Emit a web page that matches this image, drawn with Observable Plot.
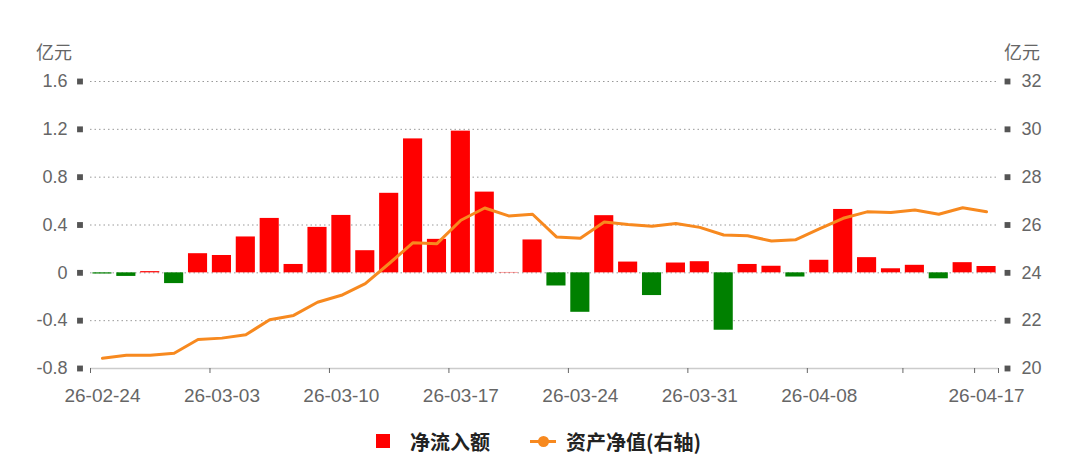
<!DOCTYPE html>
<html>
<head>
<meta charset="utf-8">
<script src="https://cdn.jsdelivr.net/npm/d3@7"></script>
<script src="https://cdn.jsdelivr.net/npm/@observablehq/plot@0.6"></script>
<style>
  html, body { margin: 0; padding: 0; background: #fff; }
  body { width: 1077px; height: 462px; overflow: hidden; font-family: "Liberation Sans", Arial, "Noto Sans CJK SC", sans-serif; }
  #chart svg { display: block; }
  .legend { height: 42px; display: flex; justify-content: center; align-items: center; font-weight: bold; font-size: 20px; color: #222; font-family: "Noto Sans CJK SC", sans-serif; }
  .legend .sq { width: 14px; height: 14px; background: #ff0000; margin-right: 20px; }
  .legend .ln { position: relative; width: 26px; height: 3px; background: #f7891f; margin-left: 40px; margin-right: 10px; }
  .legend .ln::after { content: ""; position: absolute; left: 8px; top: -4px; width: 11px; height: 11px; border-radius: 50%; background: #f7891f; }
</style>
</head>
<body>
<div id="chart"></div>
<div class="legend"><span class="sq"></span><span>净流入额</span><span class="ln"></span><span>资产净值(右轴)</span></div>
<script>
const dates = ["26-02-24","26-02-25","26-02-26","26-02-27","26-03-02","26-03-03","26-03-04","26-03-05","26-03-06","26-03-09","26-03-10","26-03-11","26-03-12","26-03-13","26-03-16","26-03-17","26-03-18","26-03-19","26-03-20","26-03-23","26-03-24","26-03-25","26-03-26","26-03-27","26-03-30","26-03-31","26-04-01","26-04-02","26-04-03","26-04-07","26-04-08","26-04-09","26-04-10","26-04-13","26-04-14","26-04-15","26-04-16","26-04-17"];
// 净流入额 (亿元)
const flows = [-0.01,-0.03,0.01,-0.09,0.16,0.145,0.30,0.455,0.07,0.38,0.48,0.185,0.665,1.12,0.28,1.185,0.675,0.003,0.275,-0.11,-0.33,0.478,0.09,-0.19,0.082,0.093,-0.48,0.07,0.055,-0.035,0.105,0.53,0.127,0.034,0.063,-0.05,0.085,0.053];
// 资产净值 (亿元, 右轴)
const navs = [20.43,20.55,20.55,20.64,21.21,21.27,21.41,22.04,22.22,22.77,23.06,23.55,24.39,25.26,25.22,26.2,26.71,26.38,26.45,25.5,25.45,26.13,26.02,25.95,26.06,25.9,25.58,25.55,25.33,25.38,25.84,26.28,26.55,26.52,26.63,26.45,26.72,26.55];
const leftTicks = [-0.8,-0.4,0,0.4,0.8,1.2,1.6];
const rightTicks = [20,22,24,26,28,30,32];
const labelDates = ["26-02-24","26-03-03","26-03-10","26-03-17","26-03-24","26-03-31","26-04-08","26-04-17"];
const tickDates = ["26-02-24","26-03-03","26-03-10","26-03-17","26-03-24","26-03-31","26-04-08","26-04-14","26-04-17"];

// right axis maps linearly onto left axis
const r2l = v => (v - 24) * 0.2;
const rows = dates.map((date, i) => ({date, flow: flows[i], nav: navs[i]}));

const W = 1077, H = 420, mL = 90, mR = 79, mT = 81, mB = 52;
const step = (W - mL - mR) / dates.length;

const chart = Plot.plot({
  width: W, height: H,
  marginLeft: mL, marginRight: mR, marginTop: mT, marginBottom: mB,
  style: {fontFamily: '"Liberation Sans", Arial, "Noto Sans CJK SC", sans-serif', fontSize: "18px", color: "#666", background: "#fff", overflow: "visible"},
  x: {type: "band", domain: dates, paddingInner: 0.2, paddingOuter: 0.1, axis: null},
  y: {domain: [-0.8, 1.6], axis: null},
  marks: [
    Plot.gridY(leftTicks.slice(1), {stroke: "#999", strokeOpacity: 1, strokeDasharray: "1.5,3"}),
    Plot.ruleY([-0.8], {stroke: "#ccc", strokeWidth: 1.5}),
    Plot.barY(rows, {x: "date", y: "flow", fill: d => d.flow >= 0 ? "#ff0000" : "#008000"}),
    Plot.line(rows, {x: "date", y: d => r2l(d.nav), stroke: "#f7891f", strokeWidth: 3}),
    Plot.axisX(tickDates, {tickSize: 5, tickFormat: () => "", label: null, dx: -step / 2, stroke: "#666"}),
    Plot.axisX([dates[dates.length - 1]], {tickSize: 5, tickFormat: () => "", label: null, dx: step / 2, stroke: "#666"}),
    Plot.axisX(labelDates, {tickSize: 0, tickPadding: 20, fontSize: 19, label: null}),
    Plot.axisY(leftTicks, {anchor: "left", tickSize: 0, tickPadding: 23, label: null, tickFormat: d => d === 0 ? "0" : d.toFixed(1)}),
    Plot.axisY(rightTicks.map(r2l), {anchor: "right", tickSize: 0, tickPadding: 23, label: null, tickFormat: d => String(Math.round(d / 0.2 + 24))}),
    Plot.dot(leftTicks, {y: d => d, frameAnchor: "left", dx: -10.5, symbol: "square", r: 3.3, fill: "#555"}),
    Plot.dot(rightTicks.map(r2l), {y: d => d, frameAnchor: "right", dx: 9, symbol: "square", r: 3.3, fill: "#555"}),
    Plot.text(["亿元"], {frameAnchor: "top-left", dx: -36.5, dy: -28, textAnchor: "middle", lineAnchor: "middle", fontSize: 18, fill: "#666"}),
    Plot.text(["亿元"], {frameAnchor: "top-right", dx: 23.5, dy: -28, textAnchor: "middle", lineAnchor: "middle", fontSize: 18, fill: "#666"})
  ]
});
document.getElementById("chart").appendChild(chart);
</script>
</body>
</html>
